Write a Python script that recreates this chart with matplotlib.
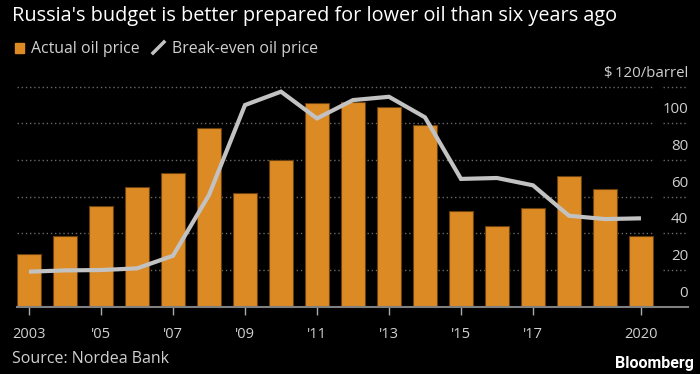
import matplotlib
matplotlib.use("Agg")
import matplotlib.pyplot as plt
from matplotlib.lines import Line2D
from matplotlib.patches import Rectangle

years = list(range(2003, 2021))
actual_price = [28.7, 38.4, 54.8, 65.3, 72.7, 97.3, 61.8, 79.8, 111.1, 111.5,
                108.8, 99.1, 52.2, 44.0, 54.0, 71.3, 64.2, 38.6]
breakeven_price = [19.1, 19.8, 20.0, 20.9, 27.8, 60.9, 110.0, 117.3, 102.7, 112.7,
                   114.5, 103.3, 69.7, 70.2, 66.2, 49.6, 47.8, 48.2]
tick_years = [2003, 2005, 2007, 2009, 2011, 2013, 2015, 2017, 2020]
tick_labels = ["2003", "'05", "'07", "'09", "'11", "'13", "'15", "'17", "2020"]
y_ticks = [0, 20, 40, 60, 80, 100, 120]
y_labels = ["0", "20", "40", "60", "80", "100", "$\u2009120/barrel"]

FONT = ["Open Sans", "DejaVu Sans"]
plt.rcParams["font.family"] = FONT

BG = "#000000"
BAR = "#dc8a24"
LINE = "#c2c2c2"
TXT = "#d0d0d0"
GRID = "#6a6a6a"

W, H = 700, 374
fig = plt.figure(figsize=(7.0, 3.74), dpi=100, facecolor=BG)

def px(x0, y0, x1, y1):
    return [x0 / W, 1 - y1 / H, (x1 - x0) / W, (y1 - y0) / H]

ax = fig.add_axes(px(17, 86.7, 688, 306.7))
ax.set_facecolor(BG)
X0, X1 = 2002.667, 2021.306
ax.set_xlim(X0, X1)
ax.set_ylim(0, 120)

# gridlines (dotted), split into plot part and label part
for v in y_ticks[1:]:
    ax.plot([X0, 2020.333], [v, v], color=GRID, lw=1.0, ls=(0, (1, 2)),
            zorder=1, clip_on=False)
    ax.plot([2020.611, X1], [v, v], color=GRID, lw=1.0, ls=(0, (1, 2)),
            zorder=1, clip_on=False)

ax.bar(years, actual_price, width=0.667, color=BAR, edgecolor="#6b4010",
       linewidth=0.8, zorder=2)
ax.plot(years, breakeven_price, color=LINE, lw=3.0, zorder=3,
        solid_joinstyle="miter", solid_capstyle="butt")

# baseline
ax.plot([X0, X1], [0, 0], color="#808080", lw=1.5, zorder=4, clip_on=False)

for s in ax.spines.values():
    s.set_visible(False)
ax.set_yticks([])
ax.set_xticks(tick_years)
ax.set_xticklabels(tick_labels, color=TXT, fontsize=10.5)
ax.tick_params(axis="x", length=6, width=1, color="#aaaaaa", pad=8.5)

# y labels above gridlines, right aligned
for v, lab in zip(y_ticks, y_labels):
    ax.text(X1, v + 5.4, lab, ha="right", va="baseline", color=TXT,
            fontsize=10.8)

fig.text(12 / W, 1 - 21 / H, "Russia's budget is better prepared for lower oil than six years ago",
         color="#ffffff", fontsize=14.3, ha="left", va="baseline")

# legend
fig.patches.append(Rectangle((15 / W, 1 - 53 / H), 9 / W, 10 / H,
                             transform=fig.transFigure, color=BAR))
fig.text(31 / W, 1 - 53 / H, "Actual oil price", color=TXT, fontsize=11.4,
         ha="left", va="baseline")
fig.lines.append(Line2D([153 / W, 164 / W], [1 - 53 / H, 1 - 42 / H],
                        transform=fig.transFigure, color=LINE, lw=2.5))
fig.text(172 / W, 1 - 53 / H, "Break-even oil price", color=TXT, fontsize=11.4,
         ha="left", va="baseline")

fig.text(12 / W, 1 - 363 / H, "Source: Nordea Bank", color=TXT, fontsize=11.5,
         ha="left", va="baseline")
fig.text(694 / W, 1 - 368 / H, "Bloomberg", color="#ffffff", fontsize=11.5,
         fontweight="bold", ha="right", va="baseline",
         family=["Roboto", "DejaVu Sans"])

fig.savefig("out.png", dpi=100, facecolor=BG)
